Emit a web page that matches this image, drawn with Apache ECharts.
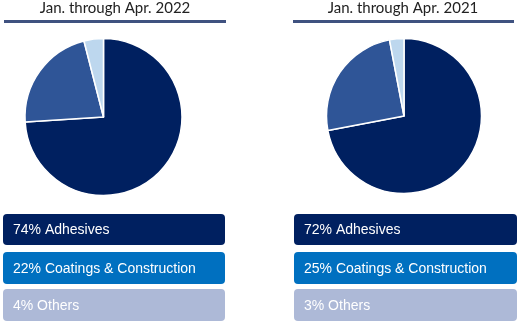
<!DOCTYPE html>
<html><head><meta charset="utf-8">
<script src="https://cdn.jsdelivr.net/npm/echarts@6/dist/echarts.min.js"></script>
<style>html,body{margin:0;padding:0;background:#fff}#c{width:522px;height:328px}</style>
</head><body><div id="c"></div>
<script>
var categories = ['Adhesives', 'Coatings & Construction', 'Others'];
var titles = ['Jan. through Apr. 2022', 'Jan. through Apr. 2021'];
var values2022 = [74, 22, 4];
var values2021 = [72, 25, 3];

var pieColors = ['#002060', '#2f5597', '#bdd7ee'];
var boxColors = ['#002060', '#0070c0', '#adb9d7'];
var chart = echarts.init(document.getElementById('c'), null, {renderer: 'canvas'});

var panels = [
  {vals: values2022, cx: 103.5, cy: 117, r: 78.5, titleX: 115, lineX1: 4, lineX2: 226, boxX: 3, boxW: 222},
  {vals: values2021, cx: 404, cy: 116, r: 77.5, titleX: 403, lineX1: 293, lineX2: 514, boxX: 294, boxW: 223}
];
var boxY = [214, 252, 289];
var boxH = [31, 32, 32];

var series = [];
var graphic = [];
panels.forEach(function (p, i) {
  series.push({
    type: 'pie', center: [p.cx, p.cy], radius: p.r, startAngle: 90, clockwise: true,
    label: {show: false}, labelLine: {show: false}, silent: true, animation: false,
    itemStyle: {borderColor: '#ffffff', borderWidth: 1.5},
    data: p.vals.map(function (v, k) { return {name: categories[k], value: v, itemStyle: {color: pieColors[k]}}; })
  });
  graphic.push({type: 'text', x: p.titleX, y: 8, style: {text: titles[i], fill: '#222', font: '15px Lato', textAlign: 'center', textVerticalAlign: 'middle', verticalAlign: 'middle', align: 'center'}});
  graphic.push({type: 'line', shape: {x1: p.lineX1, y1: 21.5, x2: p.lineX2, y2: 21.5}, style: {stroke: '#3f5280', lineWidth: 3}});
  p.vals.forEach(function (v, k) {
    graphic.push({type: 'rect', shape: {x: p.boxX, y: boxY[k], width: p.boxW, height: boxH[k], r: 4}, style: {fill: boxColors[k]}});
    graphic.push({type: 'text', x: p.boxX + 10, y: boxY[k] + boxH[k] / 2 + 1, style: {text: v + '% ' + categories[k], fill: '#ffffff', font: '14px "Liberation Sans"', verticalAlign: 'middle'}});
  });
});

chart.setOption({animation: false, series: series, graphic: graphic});
</script></body></html>
